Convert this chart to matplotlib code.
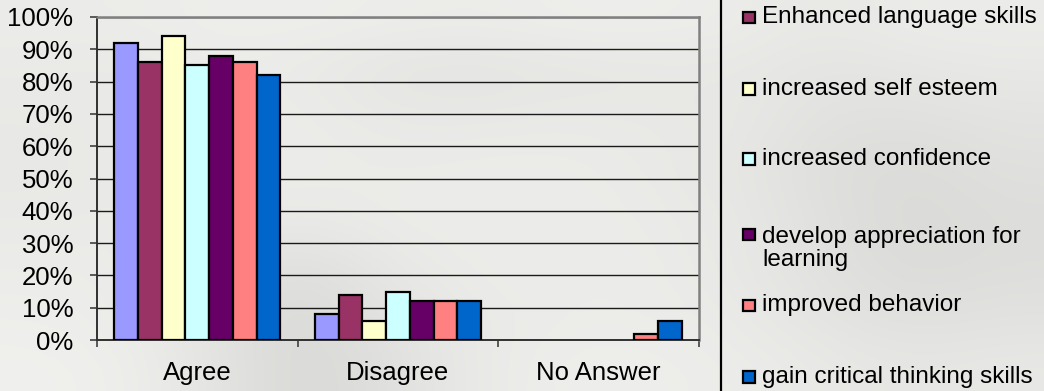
import numpy as np
import matplotlib
matplotlib.use("Agg")
import matplotlib.pyplot as plt
from matplotlib.patches import Rectangle

plt.rcParams["font.family"] = ["Liberation Sans", "DejaVu Sans"]

# ---- data -------------------------------------------------------------
categories = ["Agree", "Disagree", "No Answer"]
series_colors = ["#9999FF", "#993366", "#FFFFCC", "#CCFFFF",
                 "#660066", "#FF8080", "#0066CC"]
values = [
    [92, 8, 0],
    [86, 14, 0],
    [94, 6, 0],
    [85, 15, 0],
    [88, 12, 0],
    [86, 12, 2],
    [82, 12, 6],
]
legend_labels = ["Enhanced language skills", "increased self esteem",
                 "increased confidence",
                 "develop appreciation for\nlearning",
                 "improved behavior", "gain critical thinking skills"]
y_ticks = list(range(0, 101, 10))

W, H = 1044, 391
fig = plt.figure(figsize=(W / 100, H / 100), dpi=100)

# ---- soft photographic backdrop ----------------------------------------
bg_ax = fig.add_axes([0, 0, 1, 1], zorder=-10)
tone = np.array([
    [236, 236, 238, 238, 237, 236, 238, 238, 236, 232, 236, 236],
    [234, 233, 236, 234, 229, 228, 230, 231, 232, 228, 230, 232],
    [233, 234, 236, 236, 233, 233, 234, 233, 232, 225, 224, 227],
    [232, 234, 236, 236, 235, 236, 236, 234, 230, 222, 219, 224],
    [234, 234, 235, 233, 236, 236, 236, 235, 232, 224, 218, 221],
    [236, 236, 229, 222, 232, 236, 236, 236, 232, 225, 219, 222],
    [238, 236, 226, 217, 227, 234, 236, 236, 234, 228, 224, 226],
    [240, 238, 228, 216, 224, 234, 238, 238, 236, 233, 230, 232],
], dtype=float) / 255.0
bg_ax.imshow(np.dstack([tone, tone, tone * 0.99]), aspect="auto",
             interpolation="bicubic", extent=[0, 1, 0, 1])
bg_ax.set_axis_off()

# ---- bar chart ----------------------------------------------------------
ax = fig.add_axes([97 / W, (H - 340) / H, 602 / W, 323 / H])
ax.set_facecolor("none")

n = len(values)
width = 1.0 / (n + 1.46)
x = np.arange(len(categories))
for i, (vals, col) in enumerate(zip(values, series_colors)):
    lw = [1.6 if v > 0 else 0 for v in vals]
    ax.bar(x + (i - (n - 1) / 2) * width, vals, width=width, color=col,
           edgecolor="black", linewidth=lw, zorder=3)

ax.set_xlim(-0.5, len(categories) - 0.5)
ax.set_ylim(0, 100)
ax.set_yticks(y_ticks)
ax.set_yticklabels([f"{t}%" for t in y_ticks])
ax.set_xticks(x)
ax.set_xticklabels(categories)
ax.set_xticks(np.arange(len(categories) + 1) - 0.5, minor=True)

ax.yaxis.grid(True, color="#1a1a1a", linewidth=1.0, zorder=1)
ax.tick_params(axis="y", direction="out", length=5, width=1.2,
               color="#404040", pad=12, labelsize=18.5)
ax.tick_params(axis="x", which="major", length=0, pad=15, labelsize=18.5)
ax.tick_params(axis="x", which="minor", direction="out", length=5,
               width=1.2, color="#404040")

for side in ("top", "right"):
    ax.spines[side].set_color("#808080")
    ax.spines[side].set_linewidth(1.8)
ax.spines["left"].set_color("#303030")
ax.spines["left"].set_linewidth(1.4)
ax.spines["bottom"].set_color("#303030")
ax.spines["bottom"].set_linewidth(1.4)

# ---- legend panel -------------------------------------------------------
lg = fig.add_axes([0, 0, 1, 1], zorder=5)
lg.set_xlim(0, W)
lg.set_ylim(H, 0)
lg.set_axis_off()
lg.plot([721, 721], [0, H], color="black", linewidth=1.6)

first_baselines = [23.5, 95, 165, 240.5, 311.5, 383]
line_gap = 25.5
for lab, col, yb in zip(legend_labels, series_colors[1:], first_baselines):
    lg.add_patch(Rectangle((743, yb - 12), 11.5, 11.5, facecolor=col,
                           edgecolor="black", linewidth=1.6))
    n_lines = lab.count("\n") + 1
    lg.text(762, yb + (n_lines - 1) * line_gap, lab, fontsize=17.5,
            va="baseline", ha="left", linespacing=1.05, color="black")

fig.savefig("out.png", dpi=100)
